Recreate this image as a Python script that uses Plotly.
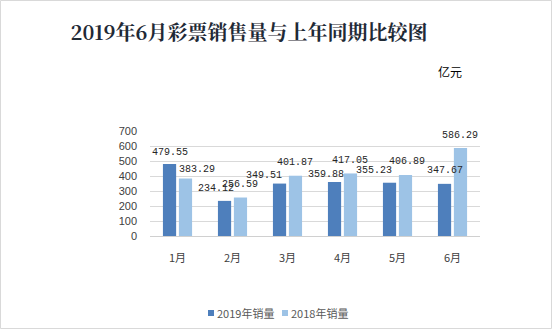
import plotly.graph_objects as go

# Monthly lottery sales, 100 million yuan
months = ["1月", "2月", "3月", "4月", "5月", "6月"]
sales_2019 = [479.55, 234.12, 349.51, 359.88, 355.23, 347.67]
sales_2018 = [383.29, 256.59, 401.87, 417.05, 406.89, 586.29]
series_names = ["2019年销量", "2018年销量"]
y_ticks = [0, 100, 200, 300, 400, 500, 600, 700]

# Bar geometry (category units) and label nudges (px) to keep labels readable
BAR_W = 0.24
OFFSETS = [-0.265, 0.025]
COLORS = ["#4E7FBC", "#9DC3E6"]
nudge_x = [[0, -9, -16, -9, -16, 0], [12, 0, 0, 0, 2, 0]]
nudge_y = [[-1, -1, -4.5, -5, -1, 0], [-4, 0, 0, 0, 0, 0]]

W, H = 552, 329
ML, MR, MT, MB = 150, 72, 131, 93
pw, ph = W - ML - MR, H - MT - MB


def px_x(px):
    return (px - ML) / pw


def px_y(py):
    return (H - MB - py) / ph


fig = go.Figure()
for name, vals, off, col in zip(series_names, [sales_2019, sales_2018], OFFSETS, COLORS):
    fig.add_trace(go.Bar(
        x=list(range(len(months))), y=vals, name=name, showlegend=False,
        width=BAR_W, offset=off, marker=dict(color=col, line=dict(width=0)),
    ))

annotations = []
for s, vals in enumerate([sales_2019, sales_2018]):
    for i, v in enumerate(vals):
        annotations.append(dict(
            x=i + OFFSETS[s] + BAR_W / 2, y=v, xref="x", yref="y",
            text=f"{v:.2f}", showarrow=False, yanchor="middle",
            xshift=nudge_x[s][i], yshift=13 + nudge_y[s][i],
            font=dict(family="Liberation Mono, DejaVu Sans Mono, monospace", size=10, color="#262626"),
        ))

# unit label
annotations.append(dict(
    x=px_x(450), y=px_y(71), xref="paper", yref="paper", text="亿元",
    showarrow=False, xanchor="center", yanchor="middle",
    font=dict(family="Noto Sans CJK SC", size=12, color="#000000"),
))

# legend: small colour squares followed by series names
shapes = []
legend_sq_x = [208, 282]
for name, col, sx in zip(series_names, COLORS, legend_sq_x):
    shapes.append(dict(
        type="rect", xref="paper", yref="paper",
        x0=px_x(sx), x1=px_x(sx + 6), y0=px_y(316), y1=px_y(310),
        fillcolor=col, line=dict(width=0),
    ))
    annotations.append(dict(
        x=px_x(sx + 7), y=px_y(313), xref="paper", yref="paper", text=name,
        showarrow=False, xanchor="left", yanchor="middle",
        font=dict(family="Noto Sans CJK SC", size=11, color="#595959"),
    ))

# light frame around the chart
shapes.append(dict(
    type="rect", xref="paper", yref="paper",
    x0=px_x(0.5), x1=px_x(W - 0.5), y0=px_y(H - 0.5), y1=px_y(0.5),
    line=dict(color="#D9D9D9", width=1), fillcolor="rgba(0,0,0,0)", layer="below",
))

fig.update_layout(
    width=W, height=H,
    margin=dict(l=ML, r=MR, t=MT, b=MB, pad=0, autoexpand=False),
    paper_bgcolor="white", plot_bgcolor="white",
    title=dict(
        text="<b>2019年6月彩票销售量与上年同期比较图</b>",
        x=249 / W, xanchor="center", y=1 - 33 / H, yanchor="middle",
        font=dict(family="Noto Serif CJK SC, Noto Sans CJK SC, serif", size=20, color="#1F2A36"),
    ),
    barmode="overlay",
    showlegend=False,
    xaxis=dict(
        range=[-0.5, 5.5], tickmode="array", tickvals=list(range(len(months))),
        ticktext=months, showgrid=False, showline=False, zeroline=False,
        ticks="", ticklabelstandoff=14,
        tickfont=dict(family="Noto Sans CJK SC", size=11, color="#404040"),
    ),
    yaxis=dict(
        range=[0, 700], tickmode="array", tickvals=y_ticks,
        showgrid=True, gridcolor="#D9D9D9", gridwidth=1,
        zeroline=True, zerolinecolor="#D0D0D0", zerolinewidth=1,
        showline=False, ticks="", ticklabelstandoff=12,
        tickfont=dict(family="Liberation Sans, Arial, sans-serif", size=11, color="#404040"),
    ),
    annotations=annotations,
    shapes=shapes,
)

fig.write_html("out.html")
